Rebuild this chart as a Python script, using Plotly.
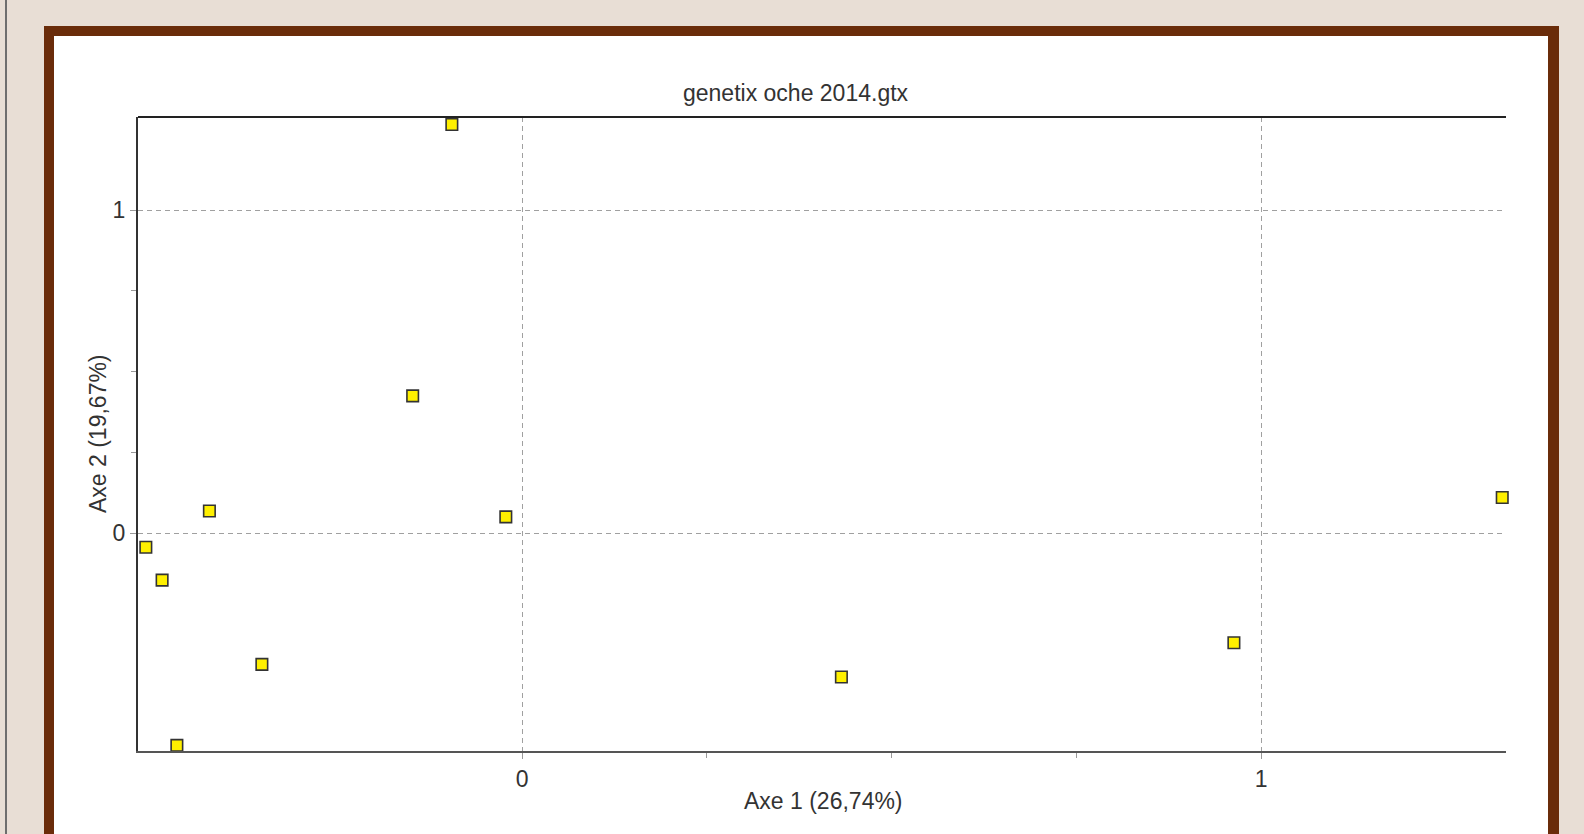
import plotly.graph_objects as go

# Factorial correspondence analysis: population coordinates on the first two axes
axe1 = [-0.095, -0.148, -0.423, -0.022, -0.509, -0.487, -0.352, -0.467, 0.432, 0.963, 1.326]
axe2 = [1.266, 0.425, 0.068, 0.050, -0.044, -0.146, -0.407, -0.658, -0.446, -0.340, 0.110]

title_text = "genetix oche 2014.gtx"
x_label = "Axe 1 (26,74%)"
y_label = "Axe 2 (19,67%)"
major_ticks = [0, 1]
major_labels = ["0", "1"]
minor_ticks = [0.25, 0.5, 0.75]

W, H = 1584, 834
ML, MR, MT, MB = 138, 78, 117, 83
PW, PH = W - ML - MR, H - MT - MB

FONT = "Liberation Sans"
TEXT = "#333333"
BEIGE = "#E8DED5"
BROWN = "#6A2C0A"


def px(xp):
    return (xp - ML) / PW


def py(yp):
    return (H - MB - yp) / PH


fig = go.Figure()
fig.add_trace(go.Scatter(
    x=axe1, y=axe2, mode="markers",
    marker=dict(symbol="square", size=11.5, color="#FFF000",
                line=dict(color="#333333", width=1.6)),
    cliponaxis=False, hoverinfo="x+y", showlegend=False,
))

shapes = [
    # thin rule along the left edge of the page
    dict(type="line", xref="paper", yref="paper", x0=px(6), x1=px(6), y0=py(0), y1=py(H),
         line=dict(color="#6E6E6E", width=2), layer="below"),
    # brown frame and white card
    dict(type="rect", xref="paper", yref="paper", x0=px(44), x1=px(1559), y0=py(26), y1=py(H + 20),
         fillcolor=BROWN, line=dict(width=0), layer="below"),
    dict(type="rect", xref="paper", yref="paper", x0=px(54), x1=px(1548), y0=py(36), y1=py(H + 20),
         fillcolor="white", line=dict(width=0), layer="below"),
    # top border of the plotting area
    dict(type="line", xref="paper", yref="paper", x0=0, x1=1, y0=1, y1=1,
         line=dict(color="#222222", width=2)),
]

annotations = [
    dict(text=title_text, xref="paper", yref="paper", x=px(796), y=py(93),
         xanchor="center", yanchor="middle", showarrow=False,
         font=dict(family=FONT, size=23, color=TEXT)),
    dict(text=x_label, xref="paper", yref="paper", x=px(823), y=py(801),
         xanchor="center", yanchor="middle", showarrow=False,
         font=dict(family=FONT, size=23, color=TEXT)),
    dict(text=y_label, xref="paper", yref="paper", x=px(98), y=py(434),
         xanchor="center", yanchor="middle", showarrow=False, textangle=-90,
         font=dict(family=FONT, size=23, color=TEXT)),
]

axis_common = dict(
    tickmode="array", tickvals=major_ticks, ticktext=major_labels,
    ticks="outside", ticklen=6, tickwidth=1, tickcolor="#999999",
    showgrid=True, gridcolor="#A0A0A0", gridwidth=1, griddash="5px,4px",
    zeroline=False, showline=True, linewidth=2,
    tickfont=dict(family=FONT, size=23, color=TEXT),
    minor=dict(tickmode="array", tickvals=minor_ticks, ticks="outside", ticklen=5,
               tickcolor="#999999", tickwidth=1, showgrid=False),
)

fig.update_layout(
    width=W, height=H,
    margin=dict(l=ML, r=MR, t=MT, b=MB, pad=0),
    paper_bgcolor=BEIGE, plot_bgcolor="rgba(0,0,0,0)",
    xaxis=dict(range=[-0.5196, 1.3311], linecolor="#555555", **axis_common),
    yaxis=dict(range=[-0.6755, 1.2891], linecolor="#333333", **axis_common),
    shapes=shapes, annotations=annotations,
    font=dict(family=FONT, color=TEXT),
)

fig.write_html("out.html")
